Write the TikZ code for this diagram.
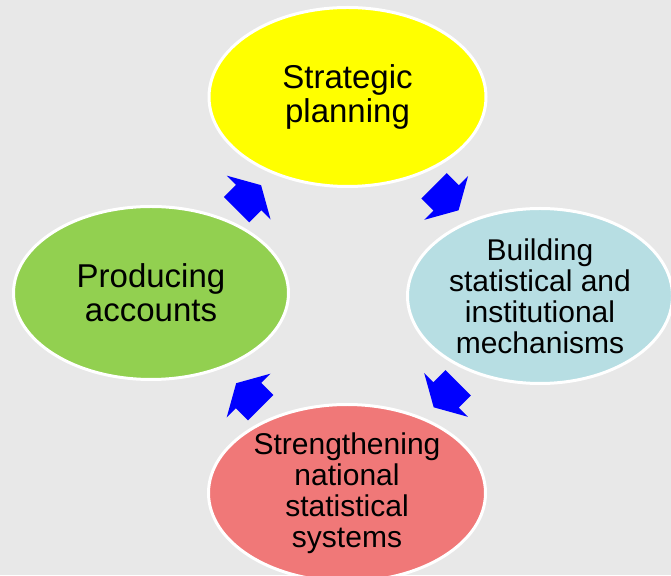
\documentclass[tikz,border=0pt]{standalone}
\usepackage{fontspec}
\setmainfont{Liberation Sans}
\usepackage{xcolor}
\usetikzlibrary{positioning}
\usetikzlibrary{calc}
\usetikzlibrary{math}
\usetikzlibrary{shapes.geometric}
\usetikzlibrary{shapes.arrows}

\definecolor{paper}{HTML}{E8E8E8}
\definecolor{planyellow}{HTML}{FFFF00}
\definecolor{accgreen}{HTML}{92D050}
\definecolor{mechblue}{HTML}{B7DEE3}
\definecolor{sysred}{HTML}{F07878}
\definecolor{arrowblue}{HTML}{0000FF}

\tikzset{
  bubble/.style={ellipse, draw=white, line width=3pt, inner sep=0pt,
    align=center, text=black},
  bigtext/.style={font=\fontsize{33}{34}\selectfont},
  smalltext/.style={font=\fontsize{30}{31}\selectfont},
  blockarrow/.style={single arrow, fill=arrowblue, draw=none,
    inner xsep=0pt, inner ysep=17.7pt, minimum height=34.6pt,
    single arrow head extend=12.9pt, single arrow tip angle=121},
}

\begin{document}
\begin{tikzpicture}[x=1pt,y=1pt]

  \tikzmath{
    \slidewidth  = 671; % width of the slide cut
    \slideheight = 575; % height of the slide cut
  }

  % background and cut
  \path[use as bounding box, fill=paper] (0,0) rectangle (\slidewidth,\slideheight);
  \clip (0,0) rectangle (\slidewidth,\slideheight);

  % the four stages
  \node[bubble, bigtext, fill=planyellow, minimum width=277pt, minimum height=179pt]
    (SP) at (347.5,478) {Strategic\\planning};
  \node[bubble, bigtext, fill=accgreen, minimum width=275pt, minimum height=173pt]
    (PA) at (151,282) {Producing\\accounts};
  \node[bubble, smalltext, fill=mechblue, minimum width=265pt, minimum height=175pt]
    (BM) at (540,279) {Building\\statistical and\\institutional\\mechanisms};
  \node[bubble, smalltext, fill=sysred, minimum width=277pt, minimum height=177pt]
    (SN) at (347,82) {Strengthening\\national\\statistical\\systems};

  % arrows of the cycle
  \node[blockarrow, rotate=45]   (A1) at ($ (PA)!0.5!(SP) + (-4,-6) $) {};
  \node[blockarrow, rotate=-45]  (A2) at ($ (SP)!0.5!(BM) + (-1,2) $) {};
  \node[blockarrow, rotate=-135] (A3) at ($ (BM)!0.5!(SN) + (6,3) $) {};
  \node[blockarrow, rotate=135]  (A4) at ($ (SN)!0.5!(PA) + (3,-6) $) {};

\end{tikzpicture}
\end{document}
